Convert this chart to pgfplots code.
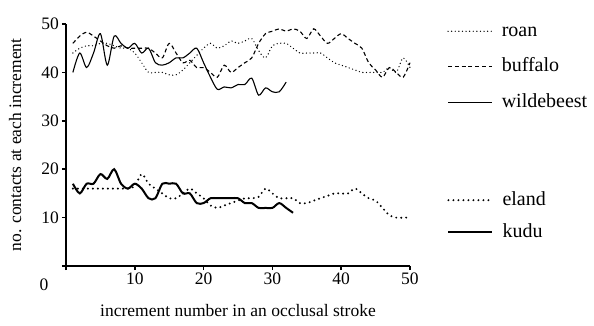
\documentclass[border=0pt]{standalone}
\usepackage{pgfplots}
\pgfplotsset{compat=1.18}
\usepackage{fontspec}
\setmainfont{Liberation Serif}
\newcommand{\ff}{\fontsize{20}{24}\selectfont}
\newcommand{\ft}{\fontsize{17.5}{21}\selectfont}
\newcommand{\fl}{\fontsize{17.5}{21}\selectfont}
\begin{document}
\begin{tikzpicture}
\useasboundingbox (-66pt,-59pt) rectangle (528pt,266pt);
\pgfplotsset{
  mybase/.style={
    scale only axis, width=344pt, height=242pt,
    xmin=0, xmax=50, ymin=0, ymax=50,
    clip=false,
    legend cell align=left,
    legend style={draw=none, fill=none, font=\ff, inner sep=0pt,
      nodes={inner sep=0pt, text height=14pt, text depth=4pt},
      column sep=9pt},
    legend image code/.code={\draw[##1] (0pt,0pt) -- (44pt,0pt);},
  }
}
\begin{axis}[mybase,
  axis x line=bottom, axis y line=left,
  axis line style={-, line width=1.6pt},
  xtick={0,10,20,30,40,50}, xticklabels={,10,20,30,40,50},
  ytick={0,10,20,30,40,50}, yticklabels={,10,20,30,40,50},
  tick align=outside, major tick length=4pt,
  tick style={line width=1.6pt, black},
  tick label style={font=\ft},
  xticklabel style={inner sep=3pt},
  yticklabel style={inner sep=3pt},
  /pgf/number format/assume math mode=true,
  xlabel={increment number in an occlusal stroke},
  ylabel={no. contacts at each increment},
  label style={font=\fl},
  xlabel style={at={(axis description cs:0.5,0)}, anchor=base, yshift=-50pt},
  ylabel style={at={(axis description cs:-0.148,0.5)}, anchor=center},
  legend style={at={(1.108,1.008)}, anchor=north west, row sep=17.5pt},
]
\addplot[black, line width=1.4pt, dash pattern=on 0pt off 3.6pt, line cap=round, smooth] coordinates {
(1,44)(2,45)(3,45.5)(4,45.5)(5,46)(6,46)(7,45.5)(8,45)(9,45)(10,44)
(11,42)(12,40)(13,40)(14,40)(15,39.5)(16,39.5)(17,40.5)(18,42)(19,43.5)(20,45)
(21,46)(22,45)(23,45.5)(24,46.5)(25,46)(26,46.5)(27,47)(28,44.5)(29,43)(30,45.5)
(31,46)(32,46)(33,45)(34,44)(35,44)(36,44)(37,44)(38,43)(39,42)(40,41.5)
(41,41)(42,40.5)(43,40)(44,40)(45,40)(46,40)(47,41)(48,40)(49,43)(50,41)};
\addlegendentry{roan}
\addplot[black, line width=1.1pt, dash pattern=on 4pt off 2.8pt, smooth] coordinates {
(1,46)(2,47.5)(3,48.3)(4,47.5)(5,46.5)(6,45.5)(7,45)(8,45.5)(9,45)(10,45)
(11,45)(12,45)(13,44)(14,43)(15,46)(16,44)(17,42)(18,42.5)(19,41)(20,41)
(21,40)(22,39)(23,41.5)(24,40)(25,41)(26,42)(27,43)(28,46)(29,48)(30,48.5)
(31,49)(32,48.5)(33,49)(34,48.5)(35,47)(36,49)(37,47.5)(38,46)(39,47)(40,48)
(41,47)(42,46)(43,45)(44,42)(45,40.5)(46,39)(47,41)(48,40)(49,39)(50,42)};
\addlegendentry{buffalo}
\addplot[black, line width=1.1pt, smooth] coordinates {
(1,40)(2,44)(3,41)(4,44)(5,48)(6,41.5)(7,47.5)(8,46)(9,45)(10,46)
(11,44)(12,45)(13,42)(14,41.5)(15,42)(16,43)(17,43)(18,44)(19,45)(20,42)
(21,39)(22,36.5)(23,37)(24,36.8)(25,37.5)(26,37.5)(27,38.8)(28,35.3)(29,36.8)(30,36)
(31,36)(32,38)};
\addlegendentry{wildebeest}
\node[font=\ft, anchor=center, inner sep=0pt] at (axis cs:0,0) [xshift=-22pt, yshift=-19pt] {0};
\end{axis}
\begin{axis}[mybase, hide axis,
  legend style={at={(1.108,0.31)}, anchor=north west, row sep=14pt},
]
\addplot[black, line width=2.2pt, dash pattern=on 0pt off 5pt, line cap=round, smooth] coordinates {
(1,16)(2,16)(3,16)(4,16)(5,16)(6,16)(7,16)(8,16)(9,16)(10,16.5)
(11,19)(12,17)(13,16)(14,15)(15,14)(16,14)(17,15)(18,16)(19,15)(20,14)
(21,12.5)(22,12)(23,12.5)(24,13)(25,13.5)(26,14)(27,14)(28,14.3)(29,16)(30,15)
(31,14)(32,14)(33,14)(34,13)(35,13)(36,13.5)(37,14)(38,14.5)(39,15)(40,15)
(41,15)(42,16)(43,15)(44,14)(45,13.5)(46,12)(47,10.5)(48,10)(49,10)(50,10)};
\addlegendentry{eland}
\addplot[black, line width=2pt, smooth] coordinates {
(1,17)(2,15)(3,17)(4,17)(5,19)(6,18)(7,20)(8,17)(9,16)(10,17)
(11,16)(12,14)(13,14)(14,17)(15,17)(16,17)(17,15)(18,15)(19,13)(20,13)
(21,14)(22,14)(23,14)(24,14)(25,14)(26,13)(27,13)(28,12)(29,12)(30,12)
(31,13)(32,12)(33,11)};
\addlegendentry{kudu}
\end{axis}
\end{tikzpicture}
\end{document}
